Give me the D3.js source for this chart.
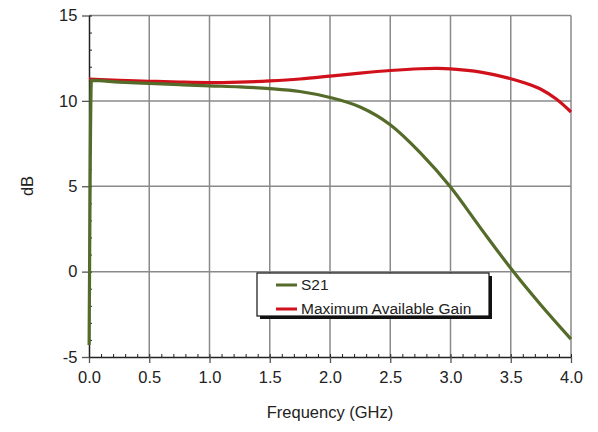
<!DOCTYPE html>
<html>
<head>
<meta charset="utf-8">
<script src="https://cdn.jsdelivr.net/npm/d3@7"></script>
<style>
  body { margin: 0; background: #fff; }
  text { font-family: "Liberation Sans", Arial, sans-serif; fill: #222; }
</style>
</head>
<body>
<div id="chart"></div>
<script>
// frequency points (GHz) and values (dB)
var s21Freq = [0.001, 0.02, 0.25, 0.5, 0.75, 1.0, 1.25, 1.5, 1.75, 2.0, 2.25, 2.5, 2.75, 3.0, 3.25, 3.5, 3.75, 4.0];
var s21Db   = [-4.3, 11.2, 11.1, 11.02, 10.95, 10.88, 10.82, 10.72, 10.55, 10.2, 9.64, 8.6, 6.95, 4.95, 2.55, 0.2, -1.95, -3.95];

var magFreq = [0.0, 0.25, 0.5, 0.75, 1.0, 1.25, 1.5, 1.75, 2.0, 2.25, 2.5, 2.75, 2.9, 3.0, 3.25, 3.5, 3.625, 3.75, 3.875, 4.0];
var magDb   = [11.28, 11.2, 11.15, 11.1, 11.07, 11.1, 11.17, 11.28, 11.45, 11.63, 11.78, 11.88, 11.9, 11.87, 11.68, 11.3, 11.03, 10.68, 10.12, 9.35];

var xTicks = [0, 0.5, 1, 1.5, 2, 2.5, 3, 3.5, 4];
var yTicks = [-5, 0, 5, 10, 15];
var legendNames = ["S21", "Maximum Available Gain"];

var W = 598, H = 432;
var margin = {top: 15.5, right: 27, bottom: 75, left: 89};
var width = W - margin.left - margin.right,
    height = H - margin.top - margin.bottom;

var svg = d3.select("#chart").append("svg")
  .attr("width", W).attr("height", H);
var g = svg.append("g")
  .attr("transform", "translate(" + margin.left + "," + margin.top + ")");

var x = d3.scaleLinear().domain([0, 4]).range([0, width]);
var y = d3.scaleLinear().domain([-5, 15]).range([height, 0]);

// grid
g.append("g").selectAll("line").data(xTicks.slice(1)).enter().append("line")
  .attr("x1", d => x(d)).attr("x2", d => x(d))
  .attr("y1", 0).attr("y2", height)
  .attr("stroke", "#8a8a8a").attr("stroke-width", 1.5);
g.append("g").selectAll("line").data(yTicks.slice(1)).enter().append("line")
  .attr("x1", 0).attr("x2", width)
  .attr("y1", d => y(d)).attr("y2", d => y(d))
  .attr("stroke", "#8a8a8a").attr("stroke-width", 1.5);

// minor ticks (inside)
g.append("g").call(d3.axisBottom(x).tickValues(d3.range(0, 4.001, 0.1)).tickSize(-3).tickFormat(""))
  .attr("transform", "translate(0," + height + ")")
  .call(a => a.select(".domain").remove())
  .selectAll("line").attr("stroke", "#222");
g.append("g").call(d3.axisLeft(y).tickValues(d3.range(-5, 15.001, 1)).tickSize(-3).tickFormat(""))
  .call(a => a.select(".domain").remove())
  .selectAll("line").attr("stroke", "#222");

// main axes
var xAxis = g.append("g")
  .attr("transform", "translate(0," + height + ")")
  .call(d3.axisBottom(x).tickValues(xTicks).tickSize(6).tickSizeOuter(0).tickFormat(d3.format(".1f")));
var yAxis = g.append("g")
  .call(d3.axisLeft(y).tickValues(yTicks).tickSize(7).tickSizeOuter(0).tickFormat(d => String(d)));
[xAxis, yAxis].forEach(function (a) {
  a.select(".domain").attr("stroke", "#222").attr("stroke-width", 1.5);
  a.selectAll(".tick line").attr("stroke", "#555").attr("stroke-width", 1.3);
  a.selectAll("text").style("font-size", "16.5px").attr("fill", "#222");
});
xAxis.selectAll("text").attr("dy", "1.05em");
yAxis.selectAll("text").attr("dx", "-0.1em");

// curves
var lineS21 = d3.line().curve(d3.curveMonotoneX).x(d => x(d[0])).y(d => y(d[1]));
var lineMag = d3.line().curve(d3.curveCatmullRom.alpha(0.5)).x(d => x(d[0])).y(d => y(d[1]));
var magData = magFreq.map((f, i) => [f, magDb[i]]);
var s21Data = s21Freq.map((f, i) => [f, s21Db[i]]);
var colors = ["#556b2a", "#d0111b"];

g.append("path").datum(magData).attr("d", lineMag)
  .attr("fill", "none").attr("stroke", colors[1]).attr("stroke-width", 3.2);
g.append("path").datum(s21Data).attr("d", lineS21)
  .attr("fill", "none").attr("stroke", colors[0]).attr("stroke-width", 3.2);

// legend
var lg = svg.append("g").attr("transform", "translate(257,273)");
lg.append("rect").attr("x", 3).attr("y", 3).attr("width", 232).attr("height", 43).attr("fill", "#111");
lg.append("rect").attr("x", 0).attr("y", 0).attr("width", 232).attr("height", 43)
  .attr("fill", "#fff").attr("stroke", "#111").attr("stroke-width", 1.2);
legendNames.forEach(function (name, i) {
  var yy = 12 + i * 24;
  lg.append("line").attr("x1", 19).attr("x2", 40).attr("y1", yy).attr("y2", yy)
    .attr("stroke", colors[i]).attr("stroke-width", 3);
  lg.append("text").attr("x", 44).attr("y", yy).attr("dy", "0.35em")
    .style("font-size", "15.5px").text(name);
});

// axis titles
svg.append("text").attr("x", margin.left + width / 2).attr("y", 418)
  .attr("text-anchor", "middle").style("font-size", "16.5px").text("Frequency (GHz)");
svg.append("text").attr("transform", "translate(33,186) rotate(-90)")
  .attr("text-anchor", "middle").style("font-size", "16.5px").text("dB");
</script>
</body>
</html>
